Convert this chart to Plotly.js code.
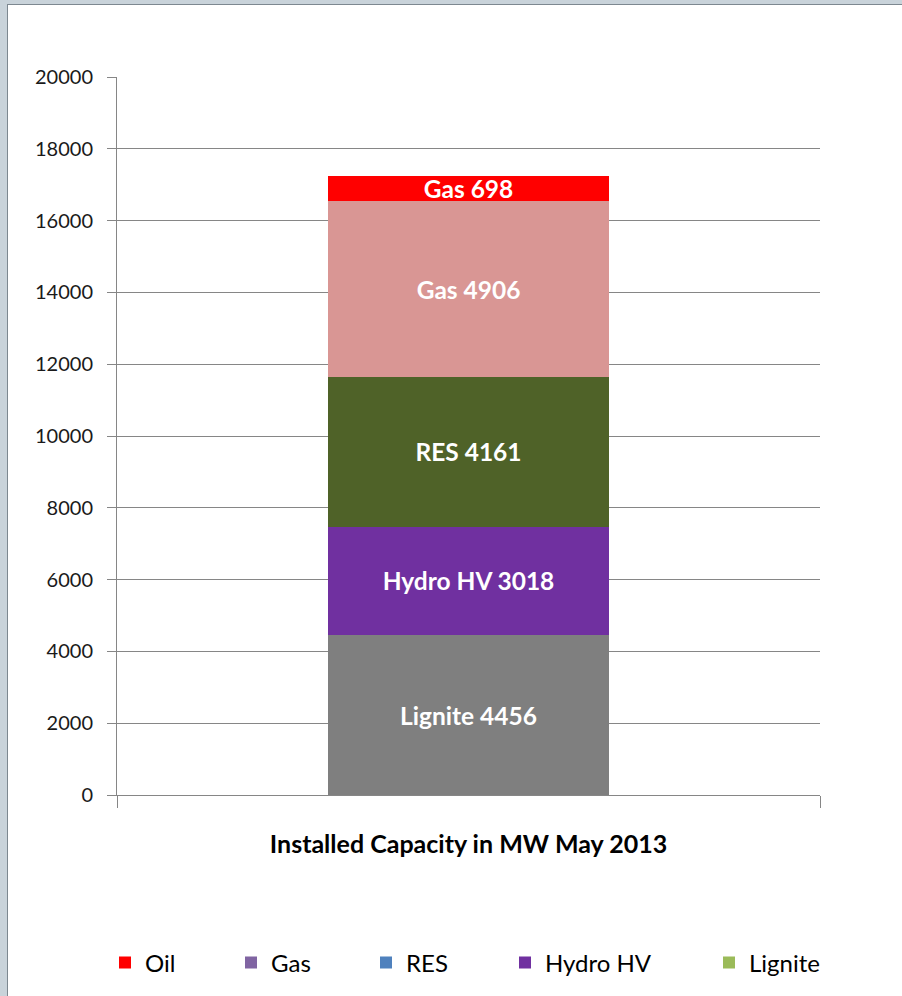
<!DOCTYPE html>
<html>
<head>
<meta charset="utf-8">
<script src="https://cdn.plot.ly/plotly-3.0.1.min.js"></script>
<style>
  html, body { margin: 0; padding: 0; width: 902px; height: 996px; overflow: hidden; background: #c9d3da; }
  #frame { position: absolute; left: 7px; top: 4px; width: 895px; height: 992px; background: #ffffff;
           border-left: 1px solid #7d8890; border-top: 1px solid #7d8890; }
  #chart { position: absolute; left: 0; top: 0; width: 902px; height: 996px; }
</style>
</head>
<body>
<div id="frame"></div>
<div id="chart"></div>
<script>
// ---- data ----
const category = ["Installed Capacity in MW May 2013"];
const segmentNames = ["Lignite", "Hydro HV", "RES", "Gas", "Oil"];          // bottom -> top
const segmentLabels = ["Lignite", "Hydro HV", "RES", "Gas", "Gas"];          // text printed on bars
const segmentValues = [4456, 3018, 4161, 4906, 698];
const segmentColors = ["#7f7f7f", "#7030a0", "#4f6228", "#d99694", "#ff0000"];
const legendNames = ["Oil", "Gas", "RES", "Hydro HV", "Lignite"];
const legendColors = ["#ff0000", "#8064a2", "#4f81bd", "#7030a0", "#9bbb59"];
const yTicks = [0, 2000, 4000, 6000, 8000, 10000, 12000, 14000, 16000, 18000, 20000];

const FONT = "Lato, 'Open Sans', sans-serif";

const traces = [];
segmentValues.forEach((v, i) => {
  traces.push({
    type: "bar",
    x: category,
    y: [v],
    name: segmentNames[i],
    text: [segmentLabels[i]],
    texttemplate: "%{text} %{y:.0f}",
    textposition: "inside",
    insidetextanchor: "middle",
    textangle: 0,
    cliponaxis: false,
    textfont: { family: FONT, size: 24.5, color: "#ffffff", weight: "bold" },
    marker: { color: segmentColors[i], line: { width: 0 } },
    showlegend: false,
    hoverinfo: "skip"
  });
});

// legend-only entries (each in its own legend to reproduce spacing)
const legendCenters = [127, 253, 388, 527, 731];
const layoutLegends = {};
legendNames.forEach((n, i) => {
  const key = i === 0 ? "legend" : "legend" + (i + 1);
  traces.push({
    type: "bar",
    x: category,
    y: [null],
    name: n,
    marker: { color: legendColors[i] },
    legend: key,
    showlegend: true,
    hoverinfo: "skip"
  });
  layoutLegends[key] = {
    orientation: "h",
    xref: "container", yref: "container",
    x: (legendCenters[i] - 22) / 902,
    y: 1 - 963 / 996,
    xanchor: "left", yanchor: "middle",
    bgcolor: "rgba(0,0,0,0)",
    font: { family: FONT, size: 24, color: "#000000" },
    itemclick: false, itemdoubleclick: false
  };
});

const layout = Object.assign({
  width: 902,
  height: 996,
  margin: { l: 117, r: 82, t: 77, b: 201 },
  paper_bgcolor: "rgba(0,0,0,0)",
  plot_bgcolor: "rgba(0,0,0,0)",
  barmode: "stack",
  bargap: 0.6,
  uniformtext: { mode: "show", minsize: 24.5 },
  xaxis: {
    type: "category",
    tickson: "boundaries",
    ticks: "outside",
    ticklen: 12,
    tickcolor: "#868686",
    showline: true,
    linecolor: "#868686",
    linewidth: 1,
    showgrid: false,
    zeroline: false,
    ticklabelstandoff: 27,
    tickfont: { family: FONT, size: 25, color: "#000000", weight: "bold" },
    fixedrange: true
  },
  yaxis: {
    range: [0, 20000],
    tickvals: yTicks,
    ticktext: yTicks.map(String),
    ticks: "outside",
    ticklen: 9,
    tickcolor: "#868686",
    showline: true,
    linecolor: "#868686",
    linewidth: 1,
    showgrid: true,
    gridcolor: "#868686",
    gridwidth: 1,
    zeroline: false,
    ticklabelstandoff: 10,
    tickfont: { family: FONT, size: 20, color: "#1a1a1a" },
    fixedrange: true
  },
  showlegend: true
}, layoutLegends);

Plotly.newPlot("chart", traces, layout, { staticPlot: true, displayModeBar: false });
</script>
</body>
</html>
